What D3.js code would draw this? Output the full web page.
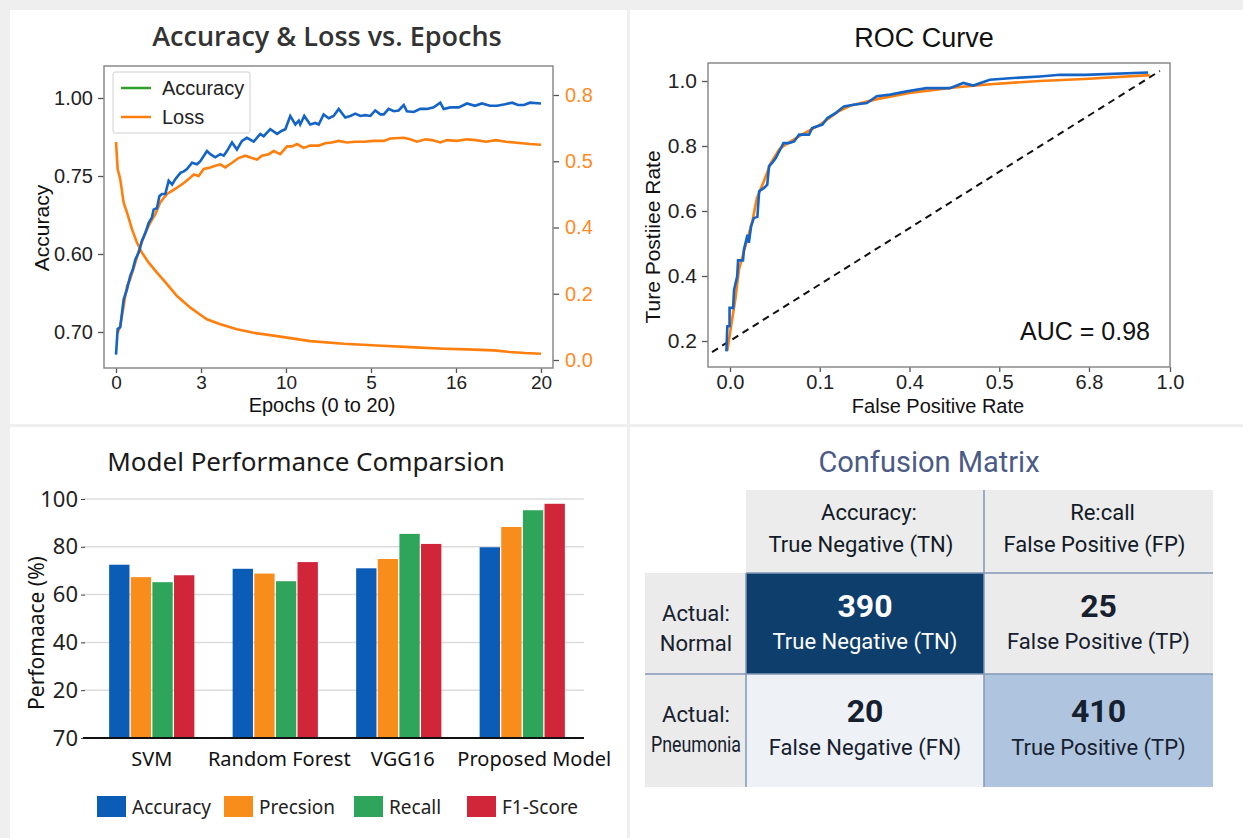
<!DOCTYPE html>
<html>
<head>
<meta charset="utf-8">
<script src="https://cdn.jsdelivr.net/npm/d3@7"></script>
<style>
  html, body { margin: 0; padding: 0; background: #efefef; }
  svg { display: block; }
</style>
</head>
<body>
<div id="chart"></div>
<script>
// ---- Accuracy & Loss vs. Epochs ----
const epochTicks = [0, 4, 8, 12, 16, 20];
const epochTickLabels = ["0", "3", "10", "5", "16", "20"];
const accTicks = [0.7, 0.8, 0.9, 1.0];
const accTickLabels = ["0.70", "0.60", "0.75", "1.00"];
const lossTicks = [0, 0.2, 0.4, 0.6, 0.8];
const lossTickLabels = ["0.0", "0.2", "0.4", "0.5", "0.8"];

// [epoch, accuracy]
const trainAcc = [
  [0, 0.671], [0.08, 0.704], [0.2, 0.706], [0.36, 0.742], [0.52, 0.755], [0.67, 0.772],
  [0.79, 0.780], [0.91, 0.793], [1.07, 0.802], [1.22, 0.817], [1.38, 0.827], [1.54, 0.840],
  [1.69, 0.847], [1.77, 0.857], [1.93, 0.859], [2.04, 0.874], [2.16, 0.877], [2.32, 0.877],
  [2.48, 0.894], [2.64, 0.889], [2.79, 0.896], [3.03, 0.904], [3.19, 0.906], [3.34, 0.909],
  [3.58, 0.917], [3.81, 0.915], [3.97, 0.919], [4.28, 0.932], [4.44, 0.928], [4.67, 0.924],
  [4.91, 0.928], [5.07, 0.926], [5.22, 0.932], [5.46, 0.943], [5.69, 0.934], [5.93, 0.945],
  [6.16, 0.949], [6.48, 0.944], [6.79, 0.954], [6.95, 0.951], [7.26, 0.960], [7.58, 0.954],
  [7.81, 0.958], [7.97, 0.960], [8.2, 0.977], [8.44, 0.966], [8.6, 0.971], [8.67, 0.966],
  [8.86, 0.977], [9.14, 0.966], [9.38, 0.968], [9.54, 0.966], [9.77, 0.979], [10.01, 0.974],
  [10.24, 0.977], [10.48, 0.986], [10.79, 0.975], [11.03, 0.977], [11.26, 0.980], [11.5, 0.977],
  [11.73, 0.978], [11.97, 0.977], [12.2, 0.984], [12.44, 0.979], [12.6, 0.979], [12.83, 0.986],
  [13.07, 0.983], [13.3, 0.984], [13.54, 0.991], [13.69, 0.983], [14.01, 0.982], [14.32, 0.986],
  [14.64, 0.986], [14.95, 0.988], [15.26, 0.994], [15.42, 0.986], [15.73, 0.988], [16.13, 0.988],
  [16.52, 0.993], [16.89, 0.990], [17.22, 0.993], [17.6, 0.990], [17.93, 0.990], [18.31, 0.992],
  [18.64, 0.994], [18.92, 0.991], [19.2, 0.991], [19.48, 0.994], [20, 0.993]
];
const valAcc = [
  [0.08, 0.699], [0.2, 0.708], [0.52, 0.759], [0.67, 0.768], [0.91, 0.789], [1.14, 0.810],
  [1.38, 0.827], [1.61, 0.840], [1.85, 0.851], [2.08, 0.866], [2.4, 0.877], [2.64, 0.881],
  [2.87, 0.885], [3.19, 0.891], [3.42, 0.896], [3.66, 0.902], [3.89, 0.900], [4.13, 0.909],
  [4.44, 0.911], [4.67, 0.913], [4.91, 0.915], [5.14, 0.911], [5.46, 0.917], [5.77, 0.923],
  [6.08, 0.926], [6.4, 0.923], [6.64, 0.921], [6.87, 0.926], [7.19, 0.928], [7.42, 0.932],
  [7.73, 0.928], [8.05, 0.938], [8.28, 0.938], [8.52, 0.941], [8.83, 0.936], [9.14, 0.939],
  [9.54, 0.939], [9.85, 0.942], [10.16, 0.943], [10.48, 0.945], [10.87, 0.943], [11.26, 0.944],
  [11.66, 0.944], [12.13, 0.945], [12.6, 0.945], [12.91, 0.948], [13.54, 0.949], [13.85, 0.947],
  [14.16, 0.944], [14.56, 0.947], [14.87, 0.946], [15.26, 0.943], [15.58, 0.946], [16.05, 0.945],
  [16.52, 0.947], [16.94, 0.946], [17.41, 0.944], [17.88, 0.946], [18.35, 0.944], [18.73, 0.943],
  [19.11, 0.942], [19.48, 0.941], [20, 0.940]
];
// [epoch, loss]
const trainLoss = [
  [0, 0.658], [0.08, 0.576], [0.2, 0.546], [0.36, 0.475], [0.52, 0.445], [0.75, 0.395],
  [0.99, 0.354], [1.22, 0.324], [1.54, 0.294], [1.93, 0.264], [2.4, 0.229], [2.87, 0.193],
  [3.5, 0.158], [4.05, 0.133], [4.28, 0.123], [4.91, 0.108], [5.69, 0.093], [6.48, 0.082],
  [7.58, 0.072], [9.14, 0.057], [10.72, 0.049], [12.28, 0.044], [13.85, 0.039], [15.42, 0.034],
  [16.52, 0.032], [17.79, 0.029], [18.54, 0.024], [19.25, 0.021], [20, 0.019]
];

// ---- ROC curve ----
const fprTicks = [0, 0.2, 0.4, 0.6, 0.8, 1.0];
const fprTickLabels = ["0.0", "0.1", "0.4", "0.5", "6.8", "1.0"];
const tprTicks = [0.2, 0.4, 0.6, 0.8, 1.0];
const tprTickLabels = ["0.2", "0.4", "0.6", "0.8", "1.0"];
// [fpr, tpr]
const rocBlue = [
  [-0.008, 0.168], [-0.006, 0.245], [-0.001, 0.246], [-0.001, 0.302], [0.007, 0.302], [0.009, 0.357],
  [0.016, 0.399], [0.018, 0.448], [0.029, 0.448], [0.031, 0.481], [0.039, 0.527], [0.042, 0.502],
  [0.047, 0.553], [0.053, 0.578], [0.061, 0.582], [0.065, 0.661], [0.076, 0.671], [0.083, 0.681],
  [0.087, 0.738], [0.094, 0.748], [0.102, 0.763], [0.111, 0.787], [0.119, 0.809], [0.131, 0.809],
  [0.143, 0.814], [0.154, 0.835], [0.176, 0.835], [0.183, 0.855], [0.206, 0.866], [0.217, 0.886],
  [0.236, 0.902], [0.254, 0.922], [0.275, 0.927], [0.305, 0.932], [0.327, 0.953], [0.357, 0.958],
  [0.394, 0.968], [0.438, 0.978], [0.49, 0.978], [0.52, 0.994], [0.542, 0.986], [0.579, 1.004],
  [0.631, 1.009], [0.691, 1.014], [0.735, 1.019], [0.791, 1.019], [0.946, 1.026]
];
const rocOrange = [
  [-0.006, 0.17], [0.004, 0.26], [0.012, 0.33], [0.02, 0.42], [0.03, 0.47], [0.04, 0.52],
  [0.05, 0.57], [0.06, 0.64], [0.075, 0.69], [0.09, 0.745], [0.11, 0.79], [0.13, 0.81],
  [0.16, 0.835], [0.2, 0.865], [0.24, 0.905], [0.27, 0.925], [0.33, 0.945], [0.4, 0.963],
  [0.45, 0.972], [0.5, 0.98], [0.58, 0.99], [0.69, 1.0], [0.79, 1.006], [0.95, 1.018]
];
const chanceLine = [[-0.04, 0.166], [0.975, 1.031]];
const aucText = "AUC = 0.98";

// ---- Model performance ----
const models = ["SVM", "Random Forest", "VGG16", "Proposed Model"];
const metrics = ["Accuracy", "Precsion", "Recall", "F1-Score"];
const accuracyPct = [72.5, 70.8, 71.0, 79.8];
const precisionPct = [67.3, 68.8, 74.9, 88.3];
const recallPct = [65.2, 65.6, 85.4, 95.3];
const f1Pct = [68.1, 73.6, 81.2, 98.0];
const perfTicks = [0, 20, 40, 60, 80, 100];
const perfTickLabels = ["70", "20", "40", "60", "80", "100"];

// ---- Confusion matrix ----
const cmHeader = [["Accuracy:", "True Negative (TN)"], ["Re:call", "False Positive (FP)"]];
const cmRowLabels = [["Actual:", "Normal"], ["Actual:", "Pneumonia"]];
const cmValues = [[390, 25], [20, 410]];
const cmCellLabels = [["True Negative (TN)", "False Positive (TP)"], ["False Negative (FN)", "True Positive (TP)"]];

// colours
const BLUE = "#1463c6", ORANGE = "#ff7f0e", GREEN = "#2ca02c";
const barColors = ["#0b5cb6", "#f98d1c", "#2fa55b", "#d1253a"];
const cmFill = [["#0e3e6c", "#ebebeb"], ["#eef1f6", "#afc4df"]];
const cmText = [["#ffffff", "#16202e"], ["#16202e", "#16202e"]];

const W = 1243, H = 838;
const svg = d3.select("#chart").append("svg").attr("width", W).attr("height", H);
svg.append("rect").attr("width", W).attr("height", H).attr("fill", "#efefef");

// panels
[[10, 10, 617, 414], [630, 10, 613, 414], [10, 427, 617, 411], [630, 427, 613, 411]].forEach(p => {
  svg.append("rect").attr("x", p[0]).attr("y", p[1]).attr("width", p[2]).attr("height", p[3]).attr("fill", "#fff");
});

const SANS = "'Liberation Sans', Arial, sans-serif";
const NOTO = "'Noto Sans', 'Open Sans', sans-serif";

function styleAxis(g, color, size) {
  g.select(".domain").remove();
  g.selectAll(".tick line").attr("stroke", "#555").attr("stroke-width", 1.3);
  g.selectAll(".tick text").attr("fill", color).attr("font-size", size).attr("font-family", SANS);
}

// ===== Panel 1 =====
{
  const g = svg.append("g");
  const x = d3.scaleLinear().domain([0, 20]).range([116, 541]);
  const yA = d3.scaleLinear().domain([0.7, 1.0]).range([332, 98]);
  const yL = d3.scaleLinear().domain([0, 0.8]).range([360, 95]);

  g.append("text").attr("x", 327).attr("y", 46).attr("text-anchor", "middle")
    .attr("font-family", "'Open Sans', sans-serif").attr("font-weight", 600).attr("font-size", 27)
    .attr("fill", "#333").text("Accuracy & Loss vs. Epochs");

  g.append("g").attr("transform", "translate(104,0)")
    .call(d3.axisLeft(yA).tickValues(accTicks).tickFormat((d, i) => accTickLabels[i]).tickSize(6).tickPadding(5))
    .call(a => styleAxis(a, "#222", 20));
  g.append("g").attr("transform", "translate(553,0)")
    .call(d3.axisRight(yL).tickValues(lossTicks).tickFormat((d, i) => lossTickLabels[i]).tickSize(6).tickPadding(6))
    .call(a => styleAxis(a, "#ff8a1f", 20));
  g.append("g").attr("transform", "translate(0,368)")
    .call(d3.axisBottom(x).tickValues(epochTicks).tickFormat((d, i) => epochTickLabels[i]).tickSize(5).tickPadding(3))
    .call(a => styleAxis(a, "#222", 19));

  g.append("rect").attr("x", 104).attr("y", 66).attr("width", 449).attr("height", 302)
    .attr("fill", "none").attr("stroke", "#8a8a8a").attr("stroke-width", 1.5);

  const lineA = d3.line().x(d => x(d[0])).y(d => yA(d[1]));
  const lineL = d3.line().x(d => x(d[0])).y(d => yL(d[1]));
  g.append("path").datum(trainLoss).attr("d", lineL).attr("fill", "none").attr("stroke", ORANGE).attr("stroke-width", 2.6);
  g.append("path").datum(valAcc).attr("d", lineA).attr("fill", "none").attr("stroke", ORANGE).attr("stroke-width", 2.6);
  g.append("path").datum(trainAcc).attr("d", lineA).attr("fill", "none").attr("stroke", BLUE).attr("stroke-width", 2.6);

  g.append("text").attr("transform", "translate(49,228) rotate(-90)").attr("text-anchor", "middle")
    .attr("font-family", SANS).attr("font-size", 21).attr("fill", "#111").text("Accuracy");
  g.append("text").attr("x", 322).attr("y", 412).attr("text-anchor", "middle")
    .attr("font-family", SANS).attr("font-size", 20).attr("fill", "#111").text("Epochs (0 to 20)");

  // legend
  const lg = g.append("g");
  lg.append("rect").attr("x", 113).attr("y", 72).attr("width", 137).attr("height", 61)
    .attr("fill", "#fff").attr("stroke", "#d0d0d0").attr("rx", 2);
  [["Accuracy", GREEN], ["Loss", ORANGE]].forEach((e, i) => {
    const yy = 88 + i * 29;
    lg.append("line").attr("x1", 121).attr("x2", 151).attr("y1", yy).attr("y2", yy).attr("stroke", e[1]).attr("stroke-width", 2.5);
    lg.append("text").attr("x", 162).attr("y", yy + 7).attr("font-family", SANS).attr("font-size", 20).attr("fill", "#222").text(e[0]);
  });
}

// ===== Panel 2 =====
{
  const g = svg.append("g");
  const x = d3.scaleLinear().domain([0, 0.8, 1]).range([730, 1089, 1170]);
  const y = d3.scaleLinear().domain([0.2, 1.0]).range([341, 81]);

  g.append("text").attr("x", 924).attr("y", 47).attr("text-anchor", "middle")
    .attr("font-family", SANS).attr("font-size", 27).attr("fill", "#111").text("ROC Curve");

  g.append("g").attr("transform", "translate(708,0)")
    .call(d3.axisLeft(y).tickValues(tprTicks).tickFormat((d, i) => tprTickLabels[i]).tickSize(6).tickPadding(5))
    .call(a => styleAxis(a, "#222", 21));
  g.append("g").attr("transform", "translate(0,367)")
    .call(d3.axisBottom(x).tickValues(fprTicks).tickFormat((d, i) => fprTickLabels[i]).tickSize(5).tickPadding(3))
    .call(a => styleAxis(a, "#222", 20));

  g.append("rect").attr("x", 708).attr("y", 63).attr("width", 462).attr("height", 304)
    .attr("fill", "none").attr("stroke", "#8a8a8a").attr("stroke-width", 1.5);

  const line = d3.line().x(d => x(d[0])).y(d => y(d[1]));
  g.append("path").datum(chanceLine).attr("d", line).attr("fill", "none")
    .attr("stroke", "#111").attr("stroke-width", 2).attr("stroke-dasharray", "7,5");
  g.append("path").datum(rocOrange).attr("d", line).attr("fill", "none").attr("stroke", ORANGE).attr("stroke-width", 2.6);
  g.append("path").datum(rocBlue).attr("d", line).attr("fill", "none").attr("stroke", BLUE).attr("stroke-width", 2.6);

  g.append("text").attr("x", 1150).attr("y", 340).attr("text-anchor", "end")
    .attr("font-family", SANS).attr("font-size", 25).attr("fill", "#111").text(aucText);
  g.append("text").attr("transform", "translate(660,237) rotate(-90)").attr("text-anchor", "middle")
    .attr("font-family", SANS).attr("font-size", 21).attr("fill", "#111").text("Ture Postiiee Rate");
  g.append("text").attr("x", 938).attr("y", 413).attr("text-anchor", "middle")
    .attr("font-family", SANS).attr("font-size", 20).attr("fill", "#111").text("False Positive Rate");
}

// ===== Panel 3 =====
{
  const g = svg.append("g");
  const series = [accuracyPct, precisionPct, recallPct, f1Pct];
  const x0 = d3.scaleBand().domain(models).range([90, 584]).paddingInner(0.31).paddingOuter(0.155);
  const x1 = d3.scaleBand().domain(metrics).range([0, x0.bandwidth()]).paddingInner(0.06);
  const y = d3.scaleLinear().domain([0, 100]).range([738, 499]);

  g.append("text").attr("x", 306).attr("y", 471).attr("text-anchor", "middle")
    .attr("font-family", NOTO).attr("font-size", 26).attr("fill", "#1a1a1a").text("Model Performance Comparsion");

  g.append("g").selectAll("line").data(perfTicks.filter(d => d > 0)).join("line")
    .attr("x1", 83).attr("x2", 584).attr("y1", d => y(d)).attr("y2", d => y(d))
    .attr("stroke", "#dcdcdc").attr("stroke-width", 1.5);

  const ya = g.append("g").attr("transform", "translate(85,0)")
    .call(d3.axisLeft(y).tickValues(perfTicks).tickFormat((d, i) => perfTickLabels[i]).tickSize(4).tickPadding(3));
  ya.select(".domain").remove();
  ya.selectAll(".tick line").attr("stroke", "#444");
  ya.selectAll(".tick text").attr("font-family", NOTO).attr("font-size", 22).attr("fill", "#222");

  models.forEach((m, mi) => {
    g.append("g").attr("transform", `translate(${x0(m)},0)`)
      .selectAll("rect").data(metrics).join("rect")
      .attr("x", d => x1(d)).attr("width", x1.bandwidth())
      .attr("y", (d, si) => y(series[si][mi])).attr("height", (d, si) => y(0) - y(series[si][mi]))
      .attr("fill", (d, si) => barColors[si]);
  });

  g.append("line").attr("x1", 83).attr("x2", 584).attr("y1", 738).attr("y2", 738).attr("stroke", "#111").attr("stroke-width", 2);

  g.append("g").selectAll("text").data(models).join("text")
    .attr("x", d => x0(d) + x0.bandwidth() / 2 + (d === "Proposed Model" ? 12 : d === "SVM" ? 0 : 4))
    .attr("y", 766).attr("text-anchor", "middle")
    .attr("font-family", NOTO).attr("font-size", 20).attr("fill", "#111").text(d => d);

  g.append("text").attr("transform", "translate(44,633) rotate(-90)").attr("text-anchor", "middle")
    .attr("font-family", NOTO).attr("font-size", 21).attr("fill", "#111").text("Perfomaace (%)");

  const legX = [97, 224, 354, 467];
  metrics.forEach((mName, i) => {
    g.append("rect").attr("x", legX[i]).attr("y", 796).attr("width", 29).attr("height", 21).attr("fill", barColors[i]);
    g.append("text").attr("x", legX[i] + 35).attr("y", 814).attr("font-family", NOTO).attr("font-size", 19)
      .attr("fill", "#222").text(mName);
  });
}

// ===== Panel 4 =====
{
  const g = svg.append("g");
  const FONT = "Roboto, 'Noto Sans', sans-serif";
  const cx = d3.scaleLinear().domain([0, 1, 2]).range([746, 984, 1213]);
  const cy = d3.scaleLinear().domain([0, 1, 2]).range([573, 674, 787]);
  const lineC = "#8298b6";

  g.append("text").attr("x", 929).attr("y", 472).attr("text-anchor", "middle")
    .attr("font-family", FONT).attr("font-size", 29).attr("fill", "#4b5b85").text("Confusion Matrix");

  // header + row label backgrounds
  g.append("rect").attr("x", cx(0)).attr("y", 490).attr("width", cx(2) - cx(0)).attr("height", cy(0) - 490).attr("fill", "#ececec");
  g.append("rect").attr("x", 645).attr("y", cy(0)).attr("width", cx(0) - 645).attr("height", cy(2) - cy(0)).attr("fill", "#ebebeb");

  const cells = [];
  cmValues.forEach((row, r) => row.forEach((v, c) => cells.push({ r, c, v })));
  const cg = g.append("g").selectAll("g").data(cells).join("g");
  cg.append("rect").attr("x", d => cx(d.c)).attr("y", d => cy(d.r))
    .attr("width", d => cx(d.c + 1) - cx(d.c)).attr("height", d => cy(d.r + 1) - cy(d.r))
    .attr("fill", d => cmFill[d.r][d.c]);
  cg.append("text").attr("x", d => (cx(d.c) + cx(d.c + 1)) / 2).attr("y", d => cy(d.r) + (d.r === 0 ? 44 : 48))
    .attr("text-anchor", "middle").attr("font-family", FONT).attr("font-weight", "bold").attr("font-size", 32)
    .attr("fill", d => cmText[d.r][d.c]).text(d => d.v);
  cg.append("text").attr("x", d => (cx(d.c) + cx(d.c + 1)) / 2).attr("y", d => cy(d.r) + (d.r === 0 ? 76 : 81))
    .attr("text-anchor", "middle").attr("font-family", FONT).attr("font-size", 22)
    .attr("fill", d => cmText[d.r][d.c]).text(d => cmCellLabels[d.r][d.c]);

  cmHeader.forEach((lines, c) => {
    lines.forEach((t, k) => {
      g.append("text").attr("x", (cx(c) + cx(c + 1)) / 2 + (k === 0 ? 4 : -4)).attr("y", 520 + k * 32)
        .attr("text-anchor", "middle").attr("font-family", FONT).attr("font-size", 22)
        .attr("fill", "#111a26").text(t);
    });
  });
  cmRowLabels.forEach((lines, r) => {
    lines.forEach((t, k) => {
      const tx = g.append("text").attr("x", 696).attr("y", cy(r) + 48 + k * 30)
        .attr("text-anchor", "middle").attr("font-family", FONT).attr("font-size", 22)
        .attr("fill", "#16202e").text(t);
      if (t.length > 7) tx.attr("textLength", 90).attr("lengthAdjust", "spacingAndGlyphs");
    });
  });

  g.append("line").attr("x1", cx(0)).attr("x2", cx(2)).attr("y1", cy(0)).attr("y2", cy(0)).attr("stroke", lineC).attr("stroke-width", 1.5);
  g.append("line").attr("x1", 645).attr("x2", cx(2)).attr("y1", cy(1)).attr("y2", cy(1)).attr("stroke", lineC).attr("stroke-width", 1.5);
  g.append("line").attr("x1", cx(1)).attr("x2", cx(1)).attr("y1", 490).attr("y2", cy(2)).attr("stroke", lineC).attr("stroke-width", 1.5);
  g.append("line").attr("x1", cx(0)).attr("x2", cx(0)).attr("y1", cy(0)).attr("y2", cy(2)).attr("stroke", lineC).attr("stroke-width", 1.5);
}
</script>
</body>
</html>
